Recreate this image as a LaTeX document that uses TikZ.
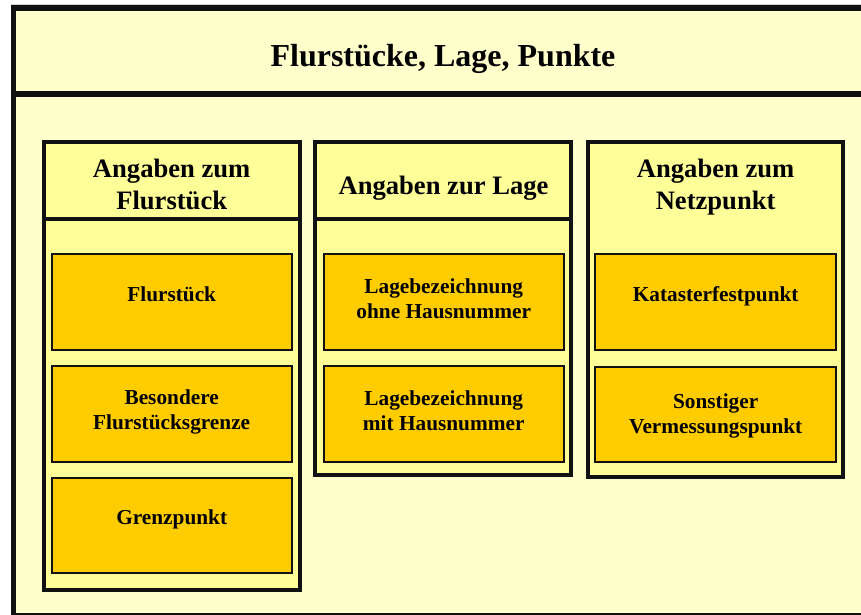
\documentclass[tikz,border=0pt]{standalone}
\usepackage{fontspec}
\setmainfont{Liberation Serif}
\definecolor{outerfill}{HTML}{FFFFCC}
\definecolor{colfill}{HTML}{FFFF99}
\definecolor{itemfill}{HTML}{FFCC00}
\definecolor{linedark}{HTML}{111111}
\begin{document}
\begin{tikzpicture}[x=1pt,y=-1pt,
  colbox/.style={draw=linedark, line width=4pt, fill=colfill, inner sep=0pt, minimum width=#1},
  colbox/.default=256pt,
  itembox/.style={draw=linedark, line width=2pt, fill=itemfill, inner sep=0pt, minimum width=240pt, minimum height=95.4pt},
  itemtext/.style={font=\bfseries\fontsize{21.3}{25}\selectfont, align=center, inner sep=0pt, anchor=north},
  headtext/.style={font=\bfseries\fontsize{26.6}{32}\selectfont, align=center, inner sep=0pt, anchor=north},
  titletext/.style={font=\bfseries\fontsize{32}{38}\selectfont, inner sep=0pt, anchor=base}]
\useasboundingbox (0,0) rectangle (861,614);
\clip (0,0) rectangle (861,614);
\fill[white] (0,0) rectangle (861,614);
% outer frame
\draw[gray!35, line width=1pt] (11,4.3) -- (861,4.3);
\draw[linedark, line width=5.5pt, fill=outerfill] (13.5,8) rectangle (880,615.5);
\draw[linedark, line width=6pt] (13.5,94) -- (880,94);
\node[titletext] (title) at (443,66) {Flurstücke, Lage, Punkte};
% columns
\node[colbox, minimum height=448pt] (c1) at (171.7,366) {};
\node[colbox, minimum height=333pt] (c2) at (443,308.5) {};
\node[colbox=255pt, minimum height=334.5pt] (c3) at (715.5,309.25) {};
\draw[linedark, line width=4pt] ([yshift=-79pt]c1.north west) -- ([yshift=-79pt]c1.north east);
\draw[linedark, line width=4pt] ([yshift=-79pt]c2.north west) -- ([yshift=-79pt]c2.north east);
% column headers
\node[headtext] (h1) at (171.7,154.9) {\strut Angaben zum\\Flurstück};
\node[headtext] (h2) at (443.5,171.9) {\strut Angaben zur Lage};
\node[headtext] (h3) at (715.6,154.9) {\strut Angaben zum\\Netzpunkt};
% items column 1
\node[itembox] (i11) at (171.7,302) {};
\node[itembox] (i12) at (171.7,414) {};
\node[itembox] (i13) at (171.7,525.5) {};
% items column 2
\node[itembox] (i21) at (443.7,302) {};
\node[itembox] (i22) at (443.7,414) {};
% items column 3
\node[itembox, minimum width=240.7pt] (i31) at (715.5,302) {};
\node[itembox, minimum width=240.7pt] (i32) at (715.5,414.7) {};
% item texts
\node[itemtext] (t11) at (171.7,284.2) {\strut Flurstück};
\node[itemtext] (t12) at (171.7,386.5) {\strut Besondere\\Flurstücksgrenze};
\node[itemtext] (t13) at (171.7,506.8) {\strut Grenzpunkt};
\node[itemtext] (t21) at (443.7,275.8) {\strut Lagebezeichnung\\ohne Hausnummer};
\node[itemtext] (t22) at (443.7,388.2) {\strut Lagebezeichnung\\mit Hausnummer};
\node[itemtext] (t31) at (715.7,284.2) {\strut Katasterfestpunkt};
\node[itemtext] (t32) at (715.7,390.8) {\strut Sonstiger\\Vermessungspunkt};
\end{tikzpicture}
\end{document}
